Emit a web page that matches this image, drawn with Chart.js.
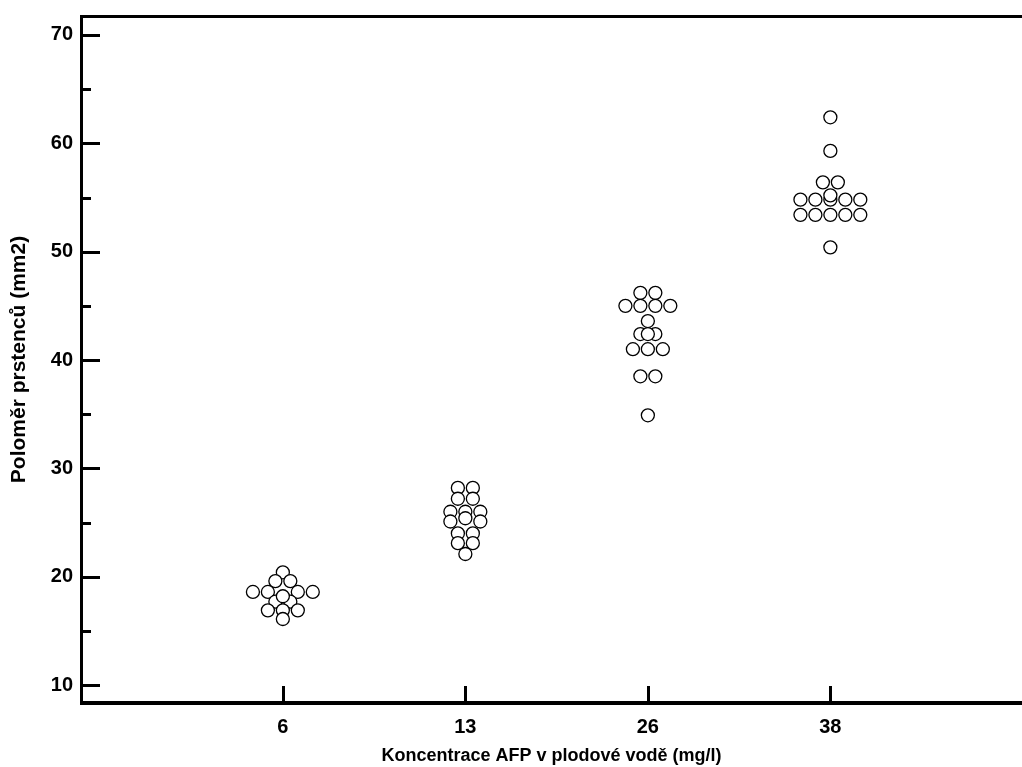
<!DOCTYPE html>
<html>
<head>
<meta charset="utf-8">
<script src="https://cdn.jsdelivr.net/npm/chart.js@4/dist/chart.umd.min.js"></script>
<style>
  html, body { margin: 0; padding: 0; background: #fff; }
  canvas { display: block; }
</style>
</head>
<body>
<canvas id="dotChart" width="1022" height="767"></canvas>
<script>
// categories (AFP concentration, mg/l)
const categories = ["6", "13", "26", "38"];

const group6 = [20.4, 19.6, 19.6, 18.6, 18.6, 18.6, 18.6, 17.7, 17.7, 16.9, 16.9, 16.9, 16.1, 18.2];
const group13 = [28.2, 28.2, 27.2, 27.2, 26.0, 26.0, 26.0, 25.1, 25.1, 24.0, 24.0, 23.1, 23.1, 22.1, 25.4];
const group26 = [46.2, 46.2, 45.0, 45.0, 45.0, 45.0, 43.6, 42.4, 42.4, 41.0, 41.0, 41.0, 38.5, 38.5, 34.9, 42.4];
const group38 = [62.4, 59.3, 56.4, 56.4, 54.8, 54.8, 54.8, 54.8, 53.4, 53.4, 53.4, 53.4, 53.4, 50.4, 54.8, 55.2];

// horizontal spread of each dot, in dot widths
const spread6 = [0, -0.5, 0.5, -2, -1, 1, 2, -0.5, 0.5, -1, 0, 1, 0, 0];
const spread13 = [-0.5, 0.5, -0.5, 0.5, -1, 0, 1, -1, 1, -0.5, 0.5, -0.5, 0.5, 0, 0];
const spread26 = [-0.5, 0.5, -1.5, -0.5, 0.5, 1.5, 0, -0.5, 0.5, -1, 0, 1, -0.5, 0.5, 0, 0];
const spread38 = [0, 0, -0.5, 0.5, -2, -1, 1, 2, -2, -1, 0, 1, 2, 0, 0, 0];

const yTicks = [10, 15, 20, 25, 30, 35, 40, 45, 50, 55, 60, 65, 70];

const DOT_STEP = 0.082; // one dot width in category units

const groups = [group6, group13, group26, group38];
const spreads = [spread6, spread13, spread26, spread38];

const points = [];
groups.forEach((vals, gi) => {
  vals.forEach((v, i) => {
    points.push({ x: gi + 1 + spreads[gi][i] * DOT_STEP, y: v });
  });
});

const fontFamily = "'Liberation Sans', Arial, sans-serif";

// frame + inward ticks
const framePlugin = {
  id: "frame",
  afterDraw(chart) {
    const { ctx, chartArea } = chart;
    const xs = chart.scales.x;
    const ys = chart.scales.y;
    const left = chartArea.left;
    ctx.save();
    ctx.strokeStyle = "#000";
    ctx.lineCap = "butt";

    ctx.lineWidth = 3;
    ctx.beginPath();
    ctx.moveTo(left + 0.5, chartArea.top - 1);
    ctx.lineTo(left + 0.5, chartArea.bottom + 2);
    ctx.stroke();

    ctx.beginPath();
    ctx.moveTo(left - 1, chartArea.top + 0.5);
    ctx.lineTo(chartArea.right, chartArea.top + 0.5);
    ctx.stroke();

    ctx.lineWidth = 4;
    ctx.beginPath();
    ctx.moveTo(left - 1, chartArea.bottom);
    ctx.lineTo(chartArea.right, chartArea.bottom);
    ctx.stroke();

    ctx.lineWidth = 3;
    yTicks.forEach((v) => {
      const py = Math.round(ys.getPixelForValue(v)) + 0.5;
      const len = v % 10 === 0 ? 18 : 9;
      ctx.beginPath();
      ctx.moveTo(left + 1, py);
      ctx.lineTo(left + 1 + len, py);
      ctx.stroke();
    });

    categories.forEach((c, i) => {
      const px = Math.round(xs.getPixelForValue(i + 1)) + 0.5;
      ctx.beginPath();
      ctx.moveTo(px, chartArea.bottom);
      ctx.lineTo(px, chartArea.bottom - 17);
      ctx.stroke();
    });
    ctx.restore();
  }
};

new Chart(document.getElementById("dotChart"), {
  type: "scatter",
  data: {
    datasets: [
      {
        data: points,
        pointStyle: "circle",
        pointRadius: 6.5,
        pointHoverRadius: 6.5,
        pointBorderWidth: 1.3,
        pointBorderColor: "#000",
        pointBackgroundColor: "#fff",
        clip: false
      }
    ]
  },
  options: {
    responsive: false,
    animation: false,
    layout: { autoPadding: false, padding: { top: 16, left: 0, right: 0, bottom: 0 } },
    plugins: {
      legend: { display: false },
      tooltip: { enabled: false }
    },
    scales: {
      x: {
        type: "linear",
        min: -0.106,
        max: 5.05,
        afterBuildTicks: (s) => {
          s.ticks = categories.map((c, i) => ({ value: i + 1 }));
        },
        ticks: {
          callback: (v) => categories[v - 1],
          padding: 12,
          color: "#000",
          font: { family: fontFamily, size: 20, weight: "bold" },
          maxRotation: 0
        },
        grid: { display: false, drawTicks: false },
        border: { display: false },
        afterFit: (s) => {
          s.height = 64;
          s.paddingLeft = 0;
          s.paddingRight = 0;
        },
        title: {
          display: true,
          text: "Koncentrace AFP v plodové vodě (mg/l)",
          color: "#000",
          font: { family: fontFamily, size: 18, weight: "bold" },
          padding: { top: 1, bottom: 0 }
        }
      },
      y: {
        type: "linear",
        min: 8.35,
        max: 71.75,
        afterBuildTicks: (s) => {
          s.ticks = yTicks.map((v) => ({ value: v }));
        },
        ticks: {
          callback: (v) => (v % 10 === 0 ? v : ""),
          padding: 8,
          color: "#000",
          font: { family: fontFamily, size: 20, weight: "bold" }
        },
        grid: { display: false, drawTicks: false },
        border: { display: false },
        afterFit: (s) => {
          s.width = 81;
          s.paddingTop = 0;
          s.paddingBottom = 0;
        },
        title: {
          display: true,
          text: "Poloměr prstenců (mm2)",
          color: "#000",
          font: { family: fontFamily, size: 21, weight: "bold" },
          padding: { top: 7, bottom: 0 }
        }
      }
    }
  },
  plugins: [framePlugin]
});
</script>
</body>
</html>
